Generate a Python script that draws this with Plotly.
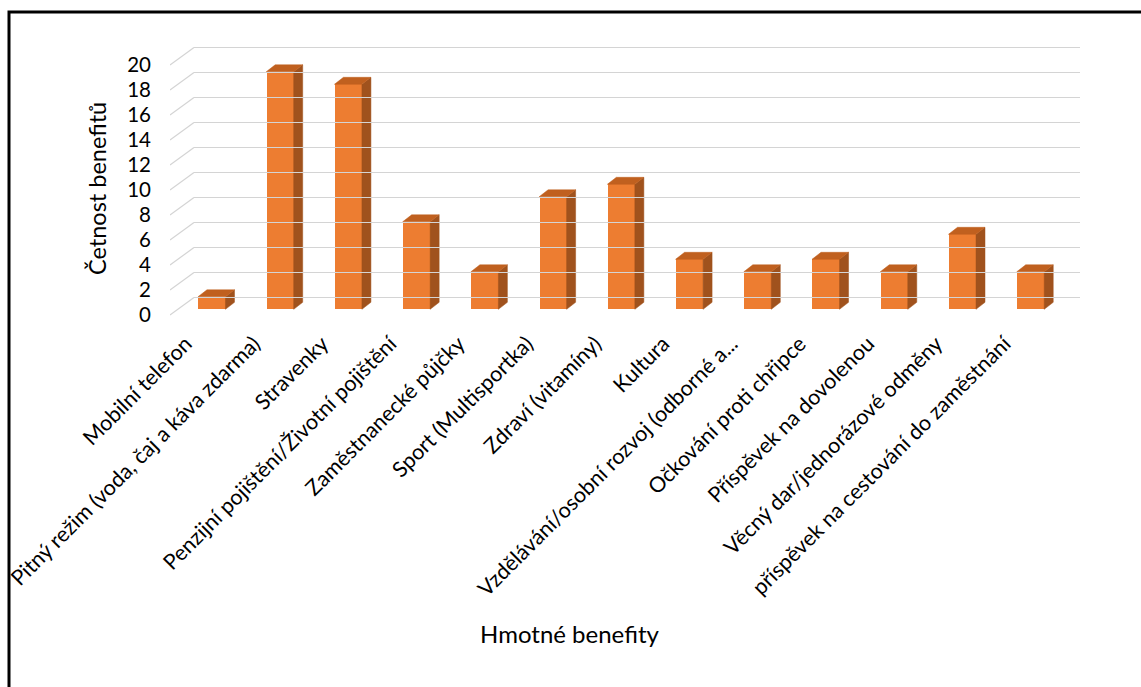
import plotly.graph_objects as go

categories = [
    "Mobilní telefon",
    "Pitný režim (voda, čaj a káva zdarma)",
    "Stravenky",
    "Penzijní pojištění/Životní pojištění",
    "Zaměstnanecké půjčky",
    "Sport (Multisportka)",
    "Zdraví (vitamíny)",
    "Kultura",
    "Vzdělávání/osobní rozvoj (odborné a...",
    "Očkování proti chřipce",
    "Příspěvek na dovolenou",
    "Věcný dar/jednorázové odměny",
    "příspěvek na cestování do zaměstnání",
]
values = [1, 19, 18, 7, 3, 9, 10, 4, 3, 4, 3, 6, 3]
y_ticks = [0, 2, 4, 6, 8, 10, 12, 14, 16, 18, 20]
y_title = "Četnost benefitů"
x_title = "Hmotné benefity"

W, H = 1141, 687
FONT = "Lato"

def fx(px):
    return px / W

def fy(px):
    return 1 - px / H

# geometry (pixels)
PX_PER_UNIT = 12.5
FRONT_ZERO = 315.0
Y_TOP_PX, Y_BOT_PX = 40.0, 330.0
y_range = [-(Y_BOT_PX - FRONT_ZERO) / PX_PER_UNIT, (FRONT_ZERO - Y_TOP_PX) / PX_PER_UNIT]
BACK_SHIFT = 17.5 / PX_PER_UNIT      # wall depth in value units
BAR_BASE = 5.7 / PX_PER_UNIT         # bar front face depth offset
n = len(categories)
X_LEFT, X_RIGHT = 177.6, 1064.6
cat_px = (X_RIGHT - X_LEFT) / n
BAR_W = 27.5 / cat_px
DX = 9.0 / cat_px
DY = 7.0 / PX_PER_UNIT
LABEL_SHIFT = 26.0     # px, tick label axis shifted left
LABEL_Y = 326.0        # px, tick label axis line position

front = "#ED7D31"
side = "#A0521D"
topc = "#C0601F"
grid = "#D4D4D4"

fig = go.Figure()

# back wall gridlines (dummy trace on x2/y2)
fig.add_trace(go.Scatter(x=[0, 1], y=[0, 0], xaxis="x2", yaxis="y2", mode="markers",
                         marker=dict(opacity=0), hoverinfo="skip", showlegend=False))
# left wall lines
for v in y_ticks:
    fig.add_trace(go.Scatter(x=[0, 1], y=[v, v + BACK_SHIFT], xaxis="x3", yaxis="y",
                             mode="lines", line=dict(color=grid, width=1.2),
                             hoverinfo="skip", showlegend=False))

# bars: front faces
idx = list(range(n))
fig.add_trace(go.Bar(x=idx, y=values, base=[BAR_BASE] * n, width=BAR_W,
                     marker=dict(color=front, line=dict(width=0)),
                     xaxis="x", yaxis="y", showlegend=False))
# side and top faces
for i, v in enumerate(values):
    r = i + BAR_W / 2
    l = i - BAR_W / 2
    b = BAR_BASE
    t = BAR_BASE + v
    fig.add_trace(go.Scatter(x=[r, r + DX, r + DX, r, r], y=[b, b + DY, t + DY, t, b],
                             fill="toself", fillcolor=side, mode="lines",
                             line=dict(color=side, width=0.5), xaxis="x", yaxis="y",
                             hoverinfo="skip", showlegend=False))
    fig.add_trace(go.Scatter(x=[l, l + DX, r + DX, r, l], y=[t, t + DY, t + DY, t, t],
                             fill="toself", fillcolor=topc, mode="lines",
                             line=dict(color=topc, width=0.5), xaxis="x", yaxis="y",
                             hoverinfo="skip", showlegend=False))

# category label axis (dummy trace)
fig.add_trace(go.Scatter(x=idx, y=[0] * n, xaxis="x4", yaxis="y", mode="markers",
                         marker=dict(opacity=0), hoverinfo="skip", showlegend=False))

fig.update_layout(
    width=W, height=H,
    margin=dict(l=0, r=0, t=0, b=0, autoexpand=False),
    paper_bgcolor="white", plot_bgcolor="rgba(0,0,0,0)",
    font=dict(family=FONT, color="#000000"),
    bargap=0,
    xaxis=dict(domain=[fx(X_LEFT), fx(X_RIGHT)], range=[-0.5, n - 0.5],
               showticklabels=False,
               showgrid=False, zeroline=False, showline=False, ticks="",
               anchor="y", fixedrange=True, automargin=False),
    xaxis4=dict(domain=[fx(X_LEFT - LABEL_SHIFT), fx(X_RIGHT - LABEL_SHIFT)],
                range=[-0.5, n - 0.5],
                tickmode="array", tickvals=idx, ticktext=categories,
                tickangle=-45, tickfont=dict(size=21.5, family=FONT, color="#000"),
                showgrid=False, zeroline=False, showline=False, ticks="",
                anchor="free", position=fy(LABEL_Y), side="bottom",
                fixedrange=True, automargin=False),
    yaxis=dict(domain=[fy(Y_BOT_PX), fy(Y_TOP_PX)], range=y_range,
               tickmode="array", tickvals=y_ticks,
               tickfont=dict(size=20.5, family=FONT, color="#000"),
               showgrid=False, zeroline=False, showline=False, ticks="",
               anchor="x3", ticklabelstandoff=18, fixedrange=True, automargin=False),
    xaxis2=dict(domain=[fx(194), fx(1080)], range=[0, 1], visible=False,
                anchor="y2", fixedrange=True, automargin=False),
    yaxis2=dict(domain=[fy(Y_BOT_PX), fy(Y_TOP_PX)],
                range=[y_range[0] - BACK_SHIFT, y_range[1] - BACK_SHIFT],
                tickmode="array", tickvals=y_ticks, showticklabels=False,
                showgrid=True, gridcolor=grid, gridwidth=1.2, zeroline=False,
                showline=False, ticks="", anchor="x2", fixedrange=True, automargin=False),
    xaxis3=dict(domain=[fx(170), fx(194)], range=[0, 1], visible=False,
                anchor="y", fixedrange=True, automargin=False),
    annotations=[
        dict(text=y_title, xref="paper", yref="paper", x=fx(97), y=fy(189),
             textangle=-90, showarrow=False, font=dict(size=23.5, family=FONT, color="#000"),
             xanchor="center", yanchor="middle"),
        dict(text=x_title, xref="paper", yref="paper", x=fx(569), y=fy(633),
             showarrow=False, font=dict(size=24, family=FONT, color="#000"),
             xanchor="center", yanchor="middle"),
    ],
    shapes=[
        dict(type="rect", xref="paper", yref="paper", x0=fx(9), x1=fx(W + 10),
             y0=fy(H + 10), y1=fy(12), line=dict(color="black", width=3),
             fillcolor="rgba(0,0,0,0)", layer="above"),
    ],
)

fig.write_html("out.html")
